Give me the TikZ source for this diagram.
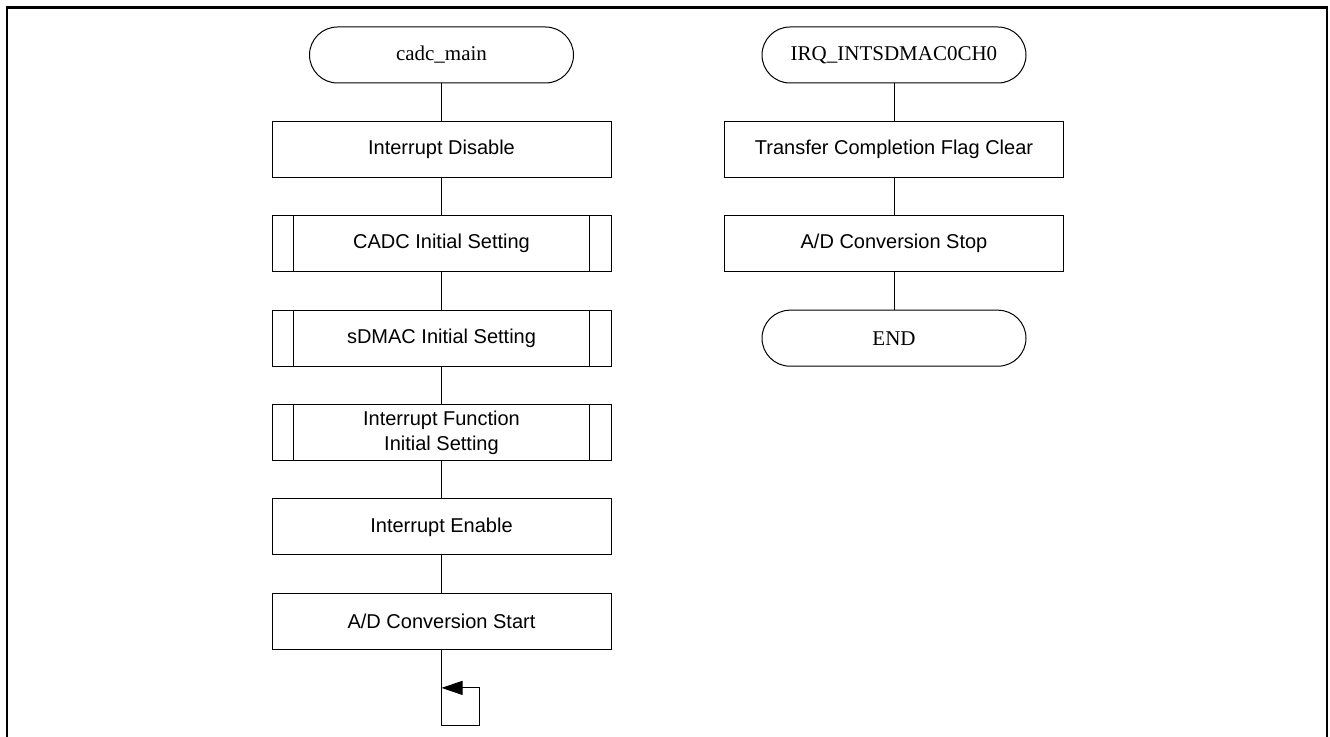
\documentclass[tikz,border=0pt]{standalone}
\usepackage{fontspec}
\setmainfont{Liberation Serif}
\setsansfont{Liberation Sans}
\usetikzlibrary{positioning,arrows.meta,calc}

\begin{document}
\begin{tikzpicture}[
    line width=0.5pt,
    node distance=18.7pt,
    term/.style={draw, rounded corners=14pt, minimum width=132pt, minimum height=28pt, inner sep=0pt, font=\fontsize{10.5}{12}\selectfont},
    box/.style={draw, minimum width=169.5pt, minimum height=28pt, inner sep=0pt, align=center, font=\sffamily\fontsize{10}{12.5}\selectfont},
    subbox/.style={box, append after command={
        ([xshift=11pt]\tikzlastnode.north west) edge ([xshift=11pt]\tikzlastnode.south west)
        ([xshift=-11pt]\tikzlastnode.north east) edge ([xshift=-11pt]\tikzlastnode.south east)}},
    backarr/.style={-{Triangle[length=10.5pt,width=7pt]}},
    frame/.style={line width=1.15pt},
]
\useasboundingbox (0,0) rectangle (665pt,-368.5pt);

% outer frame (open at the bottom)
\draw[frame] (3.5pt,-368.5pt) -- (3.5pt,-3.7pt) -- (663.5pt,-3.7pt) -- (663.5pt,-368.5pt);

% --- cadc_main ---
\node[term] (main) at (220.75pt,-27.5pt) {cadc\_main};
\node[box, below=of main] (intdis) {Interrupt Disable};
\node[subbox, below=of intdis] (cadcinit) {CADC Initial Setting};
\node[subbox, below=of cadcinit] (sdmacinit) {sDMAC Initial Setting};
\node[subbox, below=of sdmacinit] (intfinit) {Interrupt Function\\Initial Setting};
\node[box, below=of intfinit] (inten) {Interrupt Enable};
\node[box, below=of inten] (adstart) {A/D Conversion Start};

\draw (main) -- (intdis);
\draw (intdis) -- (cadcinit);
\draw (cadcinit) -- (sdmacinit);
\draw (sdmacinit) -- (intfinit);
\draw (intfinit) -- (inten);
\draw (inten) -- (adstart);

% endless loop
\coordinate (loopdown) at ([yshift=-38pt]adstart.south);
\coordinate (loopret) at ([yshift=-19pt]adstart.south);
\draw[backarr] (adstart) -- (loopdown) -- ++(18.75pt,0) |- (loopret);

% --- IRQ_INTSDMAC0CH0 ---
\node[term] (irq) at (447pt,-27.5pt) {IRQ\_INTSDMAC0CH0};
\node[box, below=of irq] (flagclr) {Transfer Completion Flag Clear};
\node[box, below=of flagclr] (adstop) {A/D Conversion Stop};
\node[term, below=of adstop] (irqend) {END};

\draw (irq) -- (flagclr);
\draw (flagclr) -- (adstop);
\draw (adstop) -- (irqend);

\end{tikzpicture}
\end{document}
